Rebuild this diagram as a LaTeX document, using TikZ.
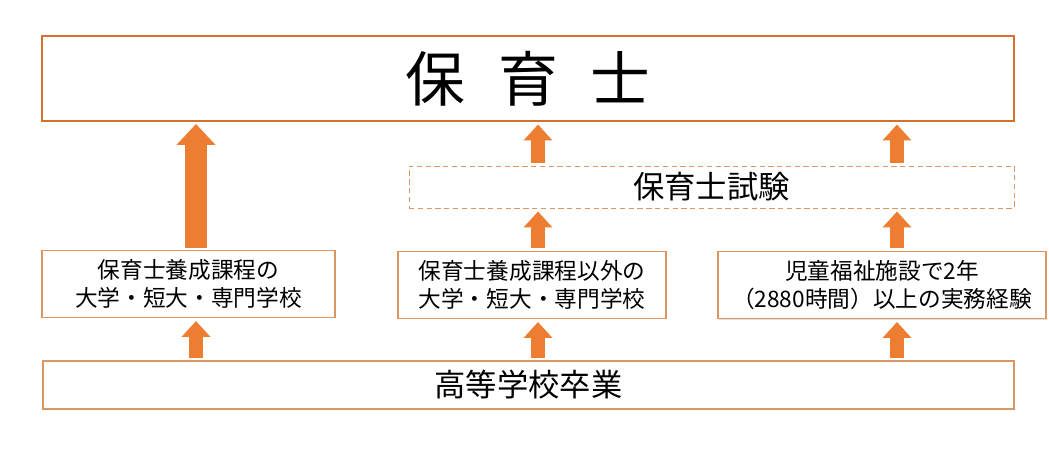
\documentclass[tikz,border=0pt]{standalone}
\usepackage{fontspec}
\setmainfont{Noto Sans CJK JP}
\usepackage{tikz}
\usetikzlibrary{arrows.meta,positioning,calc,shadows}
\definecolor{hoikuorange}{RGB}{237,125,49}
\definecolor{boxline}{RGB}{220,150,100}

\begin{document}
\begin{tikzpicture}[
  titlebox/.style={rectangle, draw=hoikuorange!90!black, line width=1.6pt, inner sep=0pt, outer sep=0pt, minimum width=19.44cm, minimum height=1.7cm, font=\fontsize{34}{36}\selectfont},
  exambox/.style={rectangle, draw=boxline, densely dashed, line width=0.4pt, inner sep=0pt, outer sep=0pt, minimum width=12.1cm, minimum height=0.84cm, font=\fontsize{17.8}{20}\selectfont},
  routebox/.style={rectangle, draw=boxline, line width=0.6pt, fill=white, inner sep=0pt, outer sep=0pt, minimum height=1.34cm, align=center, font=\fontsize{12.9}{15.5}\selectfont},
  basebox/.style={rectangle, draw=boxline, line width=0.6pt, inner sep=0pt, outer sep=0pt, minimum width=19.42cm, minimum height=0.96cm, font=\fontsize{17.8}{20}\selectfont},
  uparr/.style={draw=hoikuorange, line width=0.27cm, -{Triangle[width=0.56cm, length=0.32cm]}, shorten <=0.06cm, shorten >=0.07cm},
  bigarr/.style={draw=hoikuorange, line width=0.44cm, -{Triangle[width=0.76cm, length=0.42cm]}, shorten <=0.04cm, shorten >=0.06cm}
]
  \useasboundingbox (0,0) rectangle (20.98,-9.42);
  \node[titlebox] (title) at (10.56, -1.57) {保\hspace{0.55em}育\hspace{0.55em}士};
  \node[exambox]  (exam)  at (14.23, -3.74) {保育士試験};
  \node[routebox, minimum width=5.86cm] (course) at ( 3.77, -5.68) {保育士養成課程の\\大学・短大・専門学校};
  \node[routebox, minimum width=5.36cm] (other)  at (10.64, -5.70) {保育士養成課程以外の\\大学・短大・専門学校};
  \node[routebox, minimum width=6.56cm, drop shadow={opacity=0.25, shadow xshift=0.5pt, shadow yshift=-1pt}] (work) at (17.64, -5.70) {児童福祉施設で2年\\（2880時間）以上の実務経験};
  \node[basebox]  (school) at (10.57, -7.70) {高等学校卒業};
  % school -> routes
  \draw[uparr] ([xshift=0.15cm]school.north -| course.north) -- ([xshift=0.15cm]course.south);
  \draw[uparr] ([xshift=0.12cm]school.north -| other.north) -- ([xshift=0.12cm]other.south);
  \draw[uparr] ([xshift=0.30cm]school.north -| work.north) -- ([xshift=0.30cm]work.south);
  % routes -> exam -> title
  \draw[uparr] ([xshift=0.12cm]other.north) -- ([xshift=0.12cm]other.north |- exam.south);
  \draw[uparr] ([xshift=0.30cm]work.north) -- ([xshift=0.30cm]work.north |- exam.south);
  \draw[uparr] ([xshift=0.12cm]other.north |- exam.north) -- ([xshift=0.12cm]other.north |- title.south);
  \draw[uparr] ([xshift=0.30cm]work.north |- exam.north) -- ([xshift=0.30cm]work.north |- title.south);
  \draw[bigarr] ([xshift=0.15cm]course.north) -- ([xshift=0.15cm]course.north |- title.south);
\end{tikzpicture}
\end{document}
